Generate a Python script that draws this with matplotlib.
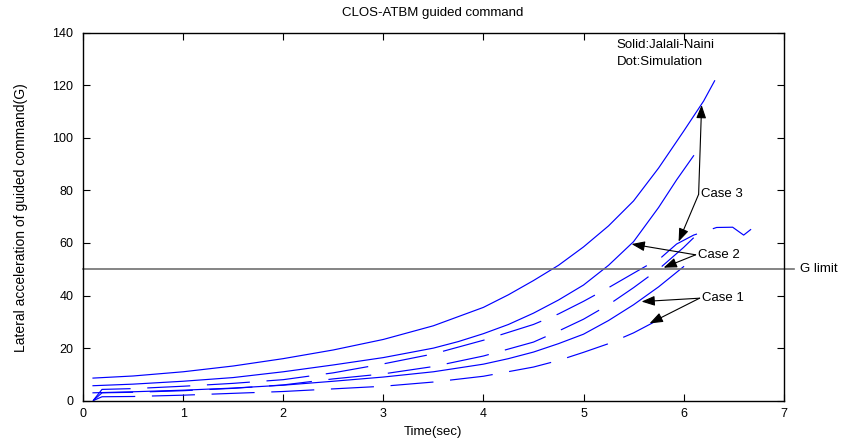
import matplotlib
matplotlib.use("Agg")
import matplotlib.pyplot as plt

plt.rcParams['font.family'] = ['Liberation Sans', 'DejaVu Sans']
plt.rcParams['lines.scale_dashes'] = False

# ---- data ----
s3_t = [0.1, 0.5, 1.0, 1.5, 2.0, 2.5, 3.0, 3.5, 4.0, 4.25, 4.5, 4.75, 5.0, 5.25, 5.5, 5.75, 6.0, 6.2, 6.31]
s3_y = [8.6, 9.4, 11.0, 13.2, 16.0, 19.3, 23.3, 28.5, 35.5, 40.3, 45.7, 51.5, 58.5, 66.5, 76.0, 88.5, 102.5, 114.0, 121.7]

s2_t = [0.1, 0.5, 1.0, 1.5, 2.0, 2.5, 3.0, 3.5, 3.75, 4.0, 4.25, 4.5, 4.75, 5.0, 5.25, 5.5, 5.75, 5.93, 6.1]
s2_y = [5.7, 6.3, 7.4, 8.8, 11.0, 13.6, 16.4, 20.0, 22.5, 25.5, 29.0, 33.3, 38.3, 44.0, 51.5, 60.5, 73.5, 84.0, 93.2]

s1_t = [0.1, 0.5, 1.0, 1.5, 2.0, 2.5, 3.0, 3.5, 4.0, 4.25, 4.5, 4.75, 5.0, 5.25, 5.5, 5.75, 6.0]
s1_y = [3.0, 3.4, 4.0, 4.8, 5.9, 7.4, 9.0, 11.0, 13.9, 16.0, 18.5, 21.7, 25.3, 30.5, 36.5, 43.3, 51.0]

d3_t = [0.1, 0.19, 0.5, 1.0, 1.5, 2.0, 2.5, 3.0, 3.5, 4.0, 4.5, 4.75, 5.0, 5.25, 5.5, 5.78, 5.93, 6.1, 6.33, 6.49, 6.6, 6.7]
d3_y = [0.0, 4.3, 4.6, 5.5, 6.6, 8.0, 10.6, 14.0, 17.8, 23.0, 29.0, 33.0, 37.8, 43.0, 48.5, 54.6, 59.6, 63.0, 65.9, 66.0, 63.0, 66.0]

d2_t = [0.1, 0.19, 0.5, 1.0, 1.5, 2.0, 2.5, 3.0, 3.5, 4.0, 4.5, 4.75, 5.0, 5.25, 5.5, 5.75, 6.0, 6.19]
d2_y = [0.0, 3.0, 3.2, 3.8, 4.7, 6.0, 8.3, 10.2, 13.0, 17.0, 22.3, 26.5, 31.0, 36.5, 43.0, 50.0, 58.3, 65.3]

d1_t = [0.1, 0.19, 0.5, 1.0, 1.5, 2.0, 2.5, 3.0, 3.5, 4.0, 4.5, 4.75, 5.0, 5.25, 5.5, 5.75, 5.91]
d1_y = [0.0, 1.5, 1.6, 2.1, 2.8, 3.5, 4.5, 5.5, 7.1, 9.3, 12.8, 15.3, 18.4, 21.7, 25.8, 30.8, 35.2]

g_limit = 50
x_ticks = [0, 1, 2, 3, 4, 5, 6, 7]
y_ticks = [0, 20, 40, 60, 80, 100, 120, 140]

# annotations: (label, text position, [arrow heads])
case_labels = [
    ("Case 3", (6.15, 78.5), [(6.18, 112.5), (5.95, 60.5)]),
    ("Case 2", (6.12, 55.5), [(5.48, 59.6), (5.80, 50.6)]),
    ("Case 1", (6.16, 39.0), [(5.58, 37.7), (5.66, 29.4)]),
]

# ---- figure ----
fig = plt.figure(figsize=(8.61, 4.44), dpi=100)
ax = fig.add_axes([83/861, 1-400.7/444, 700.7/861, 368/444])

blue = (0, 0, 1)
lw = 0.85
for t, y in [(s3_t, s3_y), (s2_t, s2_y), (s1_t, s1_y)]:
    ax.plot(t, y, color=blue, lw=lw, solid_joinstyle='round')
for t, y in [(d3_t, d3_y), (d2_t, d2_y), (d1_t, d1_y)]:
    ax.plot(t, y, color=blue, lw=lw, dashes=(31, 12))

ax.plot([0, 7.1], [g_limit, g_limit], color='#707070', lw=1.2, clip_on=False)
ax.text(7.16, g_limit, "G limit", fontsize=9.5, ha='left', va='center')

for label, (tx, ty), heads in case_labels:
    for hx, hy in heads:
        ax.annotate("", xy=(hx, hy), xytext=(tx, ty),
                    arrowprops=dict(arrowstyle='-|>,head_length=0.8,head_width=0.3',
                                    color='k', lw=0.8,
                                    mutation_scale=10, shrinkA=0, shrinkB=0))
    ax.text(tx + 0.02, ty, label, fontsize=9.5, ha='left', va='center')

ax.text(5.33, 135.3, "Solid:Jalali-Naini", fontsize=9.5, ha='left', va='center')
ax.text(5.33, 128.9, "Dot:Simulation", fontsize=9.5, ha='left', va='center')

ax.set_xlim(0, 7)
ax.set_ylim(0, 140)
ax.set_xticks(x_ticks)
ax.set_yticks(y_ticks)
ax.tick_params(direction='in', length=5, width=0.8, top=True, right=True,
               labelsize=9)
ax.tick_params(axis='x', pad=5)
ax.tick_params(axis='y', pad=7)
for s in ax.spines.values():
    s.set_linewidth(1.0)

fig.text(433/861, 1-13/444, "CLOS-ATBM guided command", fontsize=9.5,
         ha='center', va='center')
fig.text(433/861, 1-432/444, "Time(sec)", fontsize=9.5, ha='center', va='center')
fig.text(21/861, 1-218/444, "Lateral acceleration of guided command(G)",
         fontsize=10, rotation=90, ha='center', va='center')

fig.savefig("out.png", dpi=100)
